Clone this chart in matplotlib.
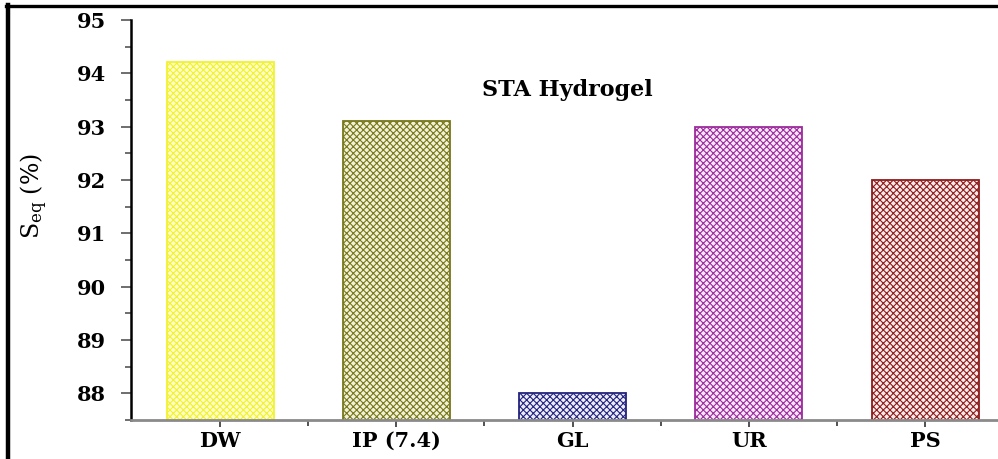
import matplotlib
matplotlib.use('Agg')
import matplotlib.pyplot as plt
from matplotlib.lines import Line2D
from matplotlib.ticker import MultipleLocator

# data
categories = ['DW', 'IP (7.4)', 'GL', 'UR', 'PS']
seq_values = [94.22, 93.1, 88.0, 92.99, 92.0]
edge_colors = ['#f2f230', '#77771a', '#23237e', '#9c2c9c', '#8e1c1c']
face_colors = ['#ffffc8', '#f2f2d8', '#ececfa', '#fae6fa', '#fbeaea']
title_text = 'STA Hydrogel'

# the reference type is a wide bold serif -> DejaVu Serif comes closest
plt.rcParams['font.family'] = ['DejaVu Serif', 'Liberation Serif']
plt.rcParams['mathtext.fontset'] = 'dejavuserif'
plt.rcParams['hatch.linewidth'] = 0.8

fig = plt.figure(figsize=(9.98, 4.59), dpi=100)
ax = fig.add_axes([131 / 998, 39 / 459, 867 / 998, 400 / 459])

x = range(len(categories))
for i, (val, ec, fc) in enumerate(zip(seq_values, edge_colors, face_colors)):
    ax.bar(i, val, width=0.607, color=fc, edgecolor=ec, hatch='xxxxx', linewidth=1.3)

ax.set_xlim(-0.505, 4.414)
ax.set_ylim(87.5, 95)

ax.set_xticks(list(x))
ax.set_xticklabels(categories, fontsize=15, fontweight='bold')
ax.set_xticks([0.5, 1.5, 2.5, 3.5], minor=True)
ax.yaxis.set_major_locator(MultipleLocator(1))
ax.yaxis.set_minor_locator(MultipleLocator(0.5))
for lab in ax.get_yticklabels():
    lab.set_fontweight('bold')
    lab.set_fontsize(15)

ax.tick_params(axis='y', which='major', length=7, width=1.2, color='#555555', pad=11, direction='out')
ax.tick_params(axis='y', which='minor', length=4, width=1.2, color='#555555', direction='out')
ax.tick_params(axis='x', which='major', length=5, width=1.2, color='#333333', pad=3, direction='out')
ax.tick_params(axis='x', which='minor', length=4, width=1.2, color='#333333', direction='out')

for side in ['top', 'right']:
    ax.spines[side].set_visible(False)
ax.spines['left'].set_linewidth(1.8)
ax.spines['left'].set_color('black')
ax.spines['bottom'].set_linewidth(2)
ax.spines['bottom'].set_color('#8a8a8a')

ax.set_ylabel(r'$\mathrm{S}_{\mathrm{eq}}$ (%)', fontsize=17)
ax.yaxis.set_label_coords(-0.094, 0.56)

ax.text(0.503, 0.825, title_text, transform=ax.transAxes, ha='center', va='center',
        fontsize=16, fontweight='bold')

# black frame of the original figure (only left and top visible in the crop)
fig.add_artist(Line2D([8 / 998, 8 / 998], [0, 1 - 5 / 459], transform=fig.transFigure,
                      color='black', linewidth=3.2))
fig.add_artist(Line2D([6 / 998, 1], [1 - 6 / 459, 1 - 6 / 459], transform=fig.transFigure,
                      color='black', linewidth=2.4))

fig.savefig('out.png', dpi=100)
